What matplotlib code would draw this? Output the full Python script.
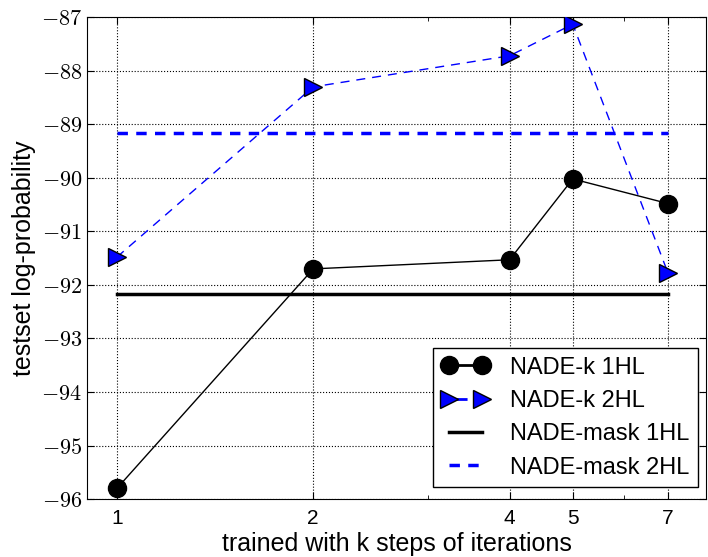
import matplotlib
matplotlib.use("Agg")
import matplotlib.pyplot as plt
from matplotlib.ticker import FixedLocator, FixedFormatter, NullFormatter

plt.rcParams["font.family"] = ["Liberation Sans", "DejaVu Sans"]
plt.rcParams["mathtext.fontset"] = "cm"

k = [1, 2, 4, 5, 7]
nade_k_1hl = [-95.8, -91.7, -91.53, -90.02, -90.48]
nade_k_2hl = [-91.48, -88.3, -87.72, -87.13, -91.78]
mask_x = [1, 7]
nade_mask_1hl = [-92.17, -92.17]
nade_mask_2hl = [-89.17, -89.17]

y_ticks = [-96, -95, -94, -93, -92, -91, -90, -89, -88, -87]

fig = plt.figure(figsize=(7.08, 5.57), dpi=100)
ax = fig.add_axes([0.123, 0.104, 0.874, 0.865])

ax.plot(k, nade_k_1hl, "-", color="black", lw=1.0, marker="o",
        markersize=13, markerfacecolor="black", markeredgecolor="black",
        label="NADE-k 1HL", zorder=4)
ax.plot(k, nade_k_2hl, "--", color="blue", lw=1.0, marker=">",
        markersize=13, markerfacecolor="blue", markeredgecolor="black",
        dashes=(6.5, 5), label="NADE-k 2HL", zorder=4)
ax.plot(mask_x, nade_mask_1hl, "-", color="black", lw=2.5,
        label="NADE-mask 1HL", zorder=3)
ax.plot(mask_x, nade_mask_2hl, "--", color="blue", lw=2.5,
        dashes=(3, 2.4), label="NADE-mask 2HL", zorder=3)

ax.set_xscale("log")
ax.set_xlim(0.9, 8.0)
ax.set_ylim(-96, -87)
ax.xaxis.set_major_locator(FixedLocator(k))
ax.xaxis.set_major_formatter(FixedFormatter([str(v) for v in k]))
ax.xaxis.set_minor_locator(FixedLocator([3, 6]))
ax.xaxis.set_minor_formatter(NullFormatter())
ax.set_yticks(y_ticks)
ax.set_yticklabels(["$%d$" % v for v in y_ticks])

ax.tick_params(axis="both", which="both", direction="in", top=True, right=True)
ax.tick_params(axis="both", which="major", length=5, labelsize=15)
ax.tick_params(axis="x", which="minor", length=3)
ax.tick_params(axis="x", which="major", pad=7)
ax.tick_params(axis="y", labelsize=16)
ax.grid(True, which="major", linestyle=":", color="black", lw=0.8)

ax.set_xlabel("trained with k steps of iterations", fontsize=18, labelpad=3)
ax.set_ylabel("testset log-probability", fontsize=18, labelpad=4)

leg = ax.legend(loc="lower right", fontsize=17, fancybox=False, framealpha=1,
                edgecolor="black", numpoints=2, handlelength=2.0,
                borderpad=0.35, labelspacing=0.48, handletextpad=0.9,
                borderaxespad=0, bbox_to_anchor=(0.987, 0.025))
leg.get_frame().set_linewidth(1.0)
leg.get_lines()[0].set_linewidth(2.0)
leg.get_lines()[1].set_linewidth(2.0)

fig.savefig("out.png", dpi=100)
